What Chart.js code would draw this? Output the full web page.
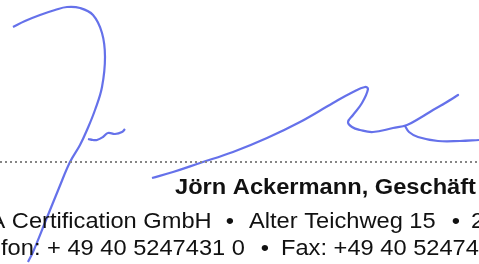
<!DOCTYPE html>
<html>
<head>
<meta charset="utf-8">
<script src="https://cdn.jsdelivr.net/npm/chart.js@4.4.0/dist/chart.umd.min.js"></script>
<style>
  html, body { margin: 0; padding: 0; background: #fff; }
  #wrap { width: 479px; height: 264px; }
</style>
</head>
<body>
<div id="wrap"><canvas id="myChart" width="479" height="264"></canvas></div>
<script>
// signature strokes (x right, y down)
const stroke1X = [13, 25, 40, 55, 67, 80, 93, 102, 105, 102, 95, 87, 80, 70, 59, 46, 33, 28];
const stroke1Y = [27, 21, 15, 10, 7, 8, 15, 33, 57, 87, 110, 130, 145, 162, 188, 220, 252, 262];

const stroke2X = [88, 93, 97, 103, 108, 115, 122, 125];
const stroke2Y = [139, 140, 140, 137, 133, 134, 132, 129];

const stroke3X = [152, 173, 200, 233, 267, 300, 333, 353, 365, 368, 362, 353, 348, 352, 360, 373, 393, 407, 420, 433, 447, 455, 458, 450, 442];
const stroke3Y = [178, 172, 163, 152, 138, 122, 103, 92, 87, 89, 103, 115, 122, 127, 130, 132, 128, 125, 118, 110, 102, 97, 95, 100, 105];

const stroke4X = [405, 409, 418, 438, 460, 479];
const stroke4Y = [126, 132, 137, 141, 141, 140];

// dotted signature line
const ruleX = [0, 479];
const ruleY = [162, 162];

// text under the line
const nameText = 'Jörn Ackermann, Geschäft';
const line2Texts = ['A Certification GmbH', '•', 'Alter Teichweg 15', '•', '2'];
const line3Texts = ['fon: + 49 40 5247431 0', '•', 'Fax: +49 40 52474'];

const toPts = (xs, ys) => xs.map((x, i) => ({ x: x, y: ys[i] }));

const inkColor = 'rgba(84, 98, 232, 0.9)';

const strokeSet = (xs, ys) => ({
  data: toPts(xs, ys),
  showLine: true,
  borderColor: inkColor,
  borderWidth: 2.2,
  pointRadius: 0,
  tension: 0.4,
  fill: false
});

// draws the text block, placed through the chart scales
const textPlugin = {
  id: 'textBlock',
  afterDatasetsDraw(chart) {
    const ctx = chart.ctx;
    const sx = chart.scales.x;
    const sy = chart.scales.y;
    const stretch = 1.075;
    const put = (txt, x, y, font, align) => {
      ctx.save();
      ctx.font = font;
      ctx.fillStyle = '#111';
      ctx.textAlign = align || 'left';
      ctx.textBaseline = 'alphabetic';
      ctx.translate(sx.getPixelForValue(x), sy.getPixelForValue(y));
      ctx.scale(stretch, 1);
      ctx.fillText(txt, 0, 0);
      ctx.restore();
    };
    const bold = 'bold 22px "Liberation Sans", Arial, sans-serif';
    const reg = '22px "Liberation Sans", Arial, sans-serif';

    put(nameText, 175, 194, bold);

    put(line2Texts[0], -10.5, 228, reg);
    put(line2Texts[1], 230, 228, reg, 'center');
    put(line2Texts[2], 249, 228, reg);
    put(line2Texts[3], 456, 228, reg, 'center');
    put(line2Texts[4], 471, 228, reg);

    put(line3Texts[0], 1, 255, reg);
    put(line3Texts[1], 265, 255, reg, 'center');
    put(line3Texts[2], 281, 255, reg);
  }
};

new Chart('myChart', {
  type: 'scatter',
  data: {
    datasets: [
      {
        data: toPts(ruleX, ruleY),
        showLine: true,
        borderColor: '#858585',
        borderWidth: 2,
        borderDash: [2, 3],
        pointRadius: 0
      },
      strokeSet(stroke1X, stroke1Y),
      strokeSet(stroke2X, stroke2Y),
      strokeSet(stroke3X, stroke3Y),
      strokeSet(stroke4X, stroke4Y)
    ]
  },
  options: {
    responsive: false,
    animation: false,
    layout: { padding: 0 },
    plugins: {
      legend: { display: false },
      tooltip: { enabled: false }
    },
    scales: {
      x: { type: 'linear', min: 0, max: 479, display: false },
      y: { type: 'linear', min: 0, max: 264, reverse: true, display: false }
    }
  },
  plugins: [textPlugin]
});
</script>
</body>
</html>
